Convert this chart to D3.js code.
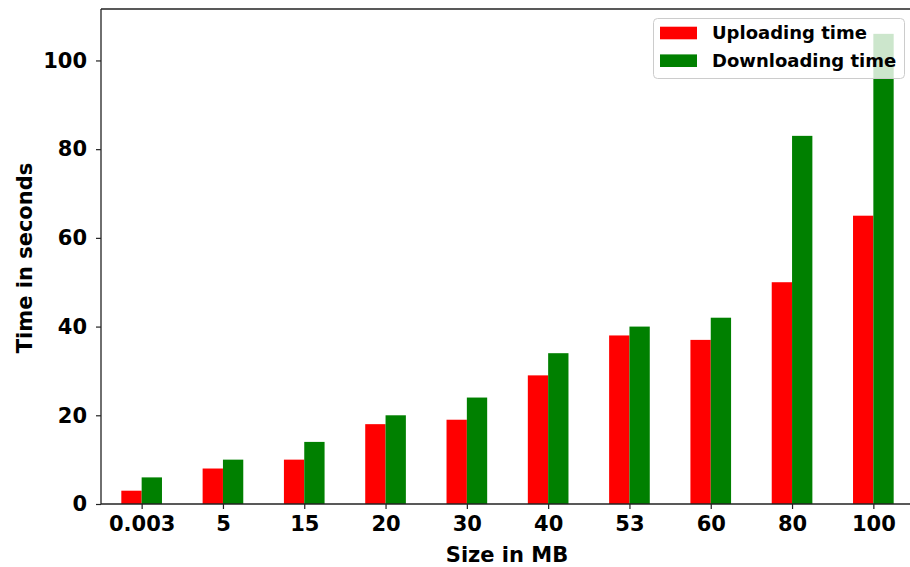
<!DOCTYPE html>
<html><head><meta charset="utf-8">
<script src="https://cdn.jsdelivr.net/npm/d3@7"></script>
<style>
html,body{margin:0;padding:0;background:#fff;}
svg{display:block;font-family:"DejaVu Sans",sans-serif;font-weight:bold;}
</style></head>
<body><svg id="chart" width="910" height="567"></svg>
<script>
const categories = ["0.003","5","15","20","30","40","53","60","80","100"];
const uploading = [3, 8, 10, 18, 19, 29, 38, 37, 50, 65];
const downloading = [6, 10, 14, 20, 24, 34, 40, 42, 83, 106];
const yTicks = [0, 20, 40, 60, 80, 100];
const seriesNames = ["Uploading time", "Downloading time"];
const colors = ["#ff0000", "#008000"];

const svg = d3.select("#chart");
const mLeft = 101, mTop = 9, mBottom = 504;
const unit = 81.3;
const x = d3.scaleLinear().domain([-0.5, 9.5]).range([mLeft, mLeft + 10 * unit]);
const y = d3.scaleLinear().domain([0, 111.6]).range([mBottom, mTop]);
const bw = 0.25;

const g = svg.append("g");
g.selectAll("rect.up").data(uploading).join("rect")
  .attr("x", (d, i) => x(i - bw)).attr("width", x(bw) - x(0))
  .attr("y", d => y(d)).attr("height", d => y(0) - y(d))
  .attr("fill", colors[0]);
g.selectAll("rect.down").data(downloading).join("rect")
  .attr("x", (d, i) => x(i)).attr("width", x(bw) - x(0))
  .attr("y", d => y(d)).attr("height", d => y(0) - y(d))
  .attr("fill", colors[1]);

const xAxis = d3.axisBottom(x).tickValues(d3.range(categories.length))
  .tickFormat(i => categories[i]).tickSize(5).tickPadding(7).tickSizeOuter(0);
const xa = svg.append("g").attr("transform", `translate(0,${mBottom})`).call(xAxis)
  .attr("font-family", "DejaVu Sans").attr("font-size", 21);
xa.select(".domain").remove();
xa.selectAll("line").attr("stroke", "#222").attr("stroke-width", 1.2);
xa.selectAll("text").attr("fill", "#000").attr("font-weight", "bold");

const yAxis = d3.axisLeft(y).tickValues(yTicks).tickSize(5).tickPadding(9).tickSizeOuter(0);
const ya = svg.append("g").attr("transform", `translate(${mLeft},0)`).call(yAxis)
  .attr("font-family", "DejaVu Sans").attr("font-size", 21);
ya.select(".domain").remove();
ya.selectAll("line").attr("stroke", "#222").attr("stroke-width", 1.2);
ya.selectAll("text").attr("fill", "#000").attr("font-weight", "bold");

const sp = svg.append("g").attr("stroke", "#222").attr("stroke-width", 1.3).attr("fill", "none");
sp.append("line").attr("x1", mLeft).attr("x2", mLeft).attr("y1", mTop).attr("y2", mBottom);
sp.append("line").attr("x1", mLeft).attr("x2", x(9.5)).attr("y1", mBottom).attr("y2", mBottom);
sp.append("line").attr("x1", mLeft).attr("x2", x(9.5)).attr("y1", mTop).attr("y2", mTop);
sp.append("line").attr("x1", x(9.5)).attr("x2", x(9.5)).attr("y1", mTop).attr("y2", mBottom);

svg.append("text").attr("x", 507).attr("y", 562).attr("text-anchor", "middle")
  .attr("font-size", 21).text("Size in MB");
svg.append("text").attr("transform", "translate(32,258) rotate(-90)").attr("text-anchor", "middle")
  .attr("font-size", 21).text("Time in seconds");

const lg = svg.append("g");
lg.append("rect").attr("x", 653.5).attr("y", 18.5).attr("width", 251).attr("height", 60)
  .attr("rx", 4).attr("fill", "#fff").attr("fill-opacity", 0.8)
  .attr("stroke", "#cccccc").attr("stroke-width", 1);
seriesNames.forEach((n, i) => {
  const cy = 33 + i * 27.7;
  lg.append("rect").attr("x", 660).attr("y", cy - 6.3).attr("width", 37).attr("height", 12.6).attr("fill", colors[i]);
  lg.append("text").attr("x", 712).attr("y", cy).attr("dy", "0.36em").attr("font-size", 18).text(n);
});
</script></body></html>
